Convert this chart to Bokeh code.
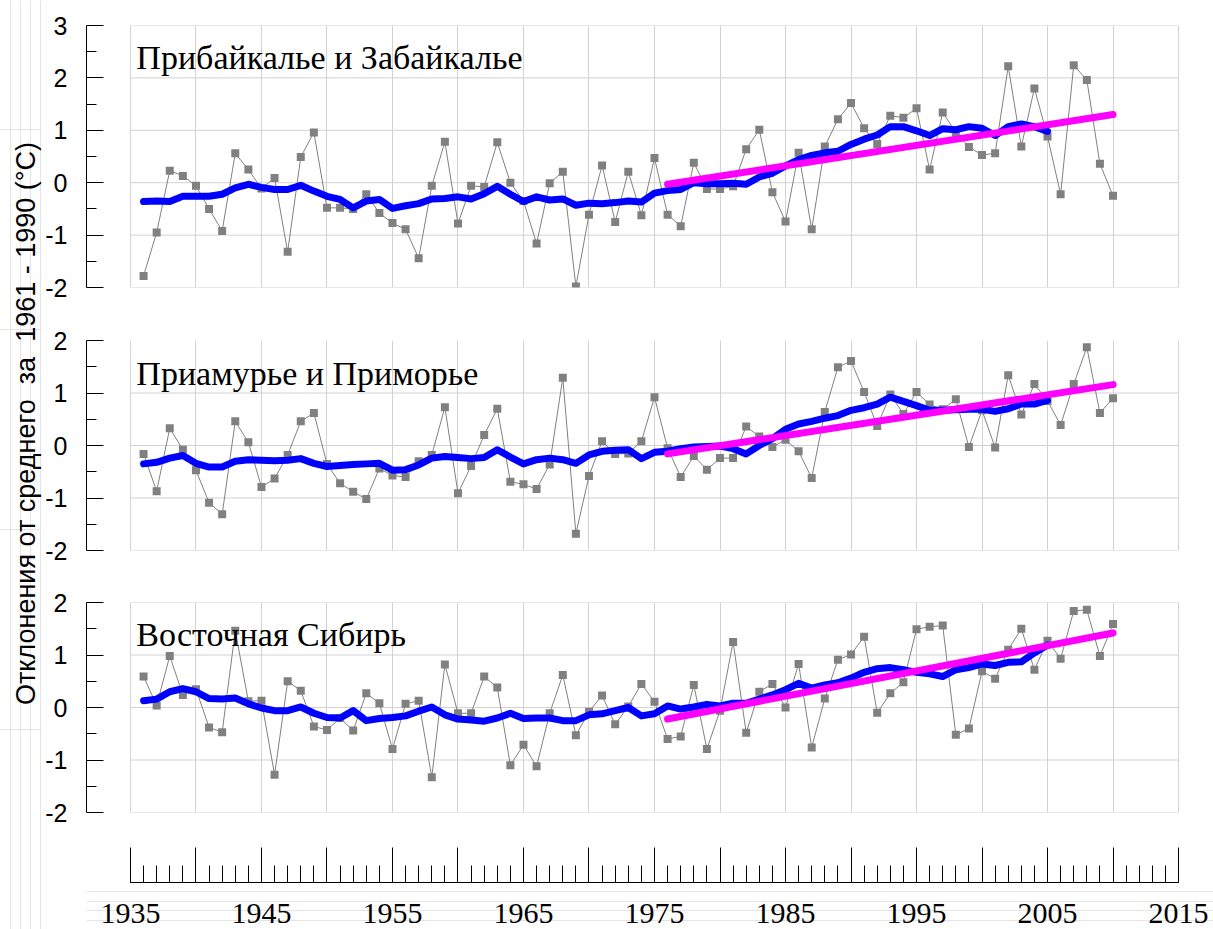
import math
from bokeh.plotting import figure
from bokeh.layouts import column, row
from bokeh.models import Range1d, FixedTicker, Label, Grid, LabelSet, ColumnDataSource
from bokeh.embed import file_html
from bokeh.resources import INLINE

# ---------------- data ----------------
years = list(range(1936, 2011))
smooth_years = list(range(1936, 2006))
trend_years = [1976, 2010]

titles = ["Прибайкалье и Забайкалье", "Приамурье и Приморье", "Восточная Сибирь"]
y_axis_title = "Отклонения от среднего\u00a0 за\u00a0 1961 - 1990 (°C)"

baikal_obs = [
    -1.78, -0.95, 0.23, 0.13, -0.06, -0.50, -0.92, 0.56, 0.25, -0.11,
    0.09, -1.32, 0.49, 0.96, -0.48, -0.48, -0.50, -0.22, -0.58, -0.77,
    -0.89, -1.44, -0.06, 0.78, -0.78, -0.06, -0.08, 0.77, 0.00, -0.35,
    -1.16, -0.01, 0.21, -1.98, -0.61, 0.33, -0.75, 0.21, -0.62, 0.47,
    -0.61, -0.83, 0.38, -0.12, -0.12, -0.07, 0.64, 1.01, -0.18, -0.74,
    0.57, -0.89, 0.69, 1.21, 1.52, 1.04, 0.74, 1.28, 1.24, 1.42,
    0.25, 1.34, 0.96, 0.68, 0.53, 0.56, 2.22, 0.69, 1.80, 0.88,
    -0.22, 2.24, 1.96, 0.36, -0.25,
]
baikal_smooth = [
    -0.36, -0.35, -0.36, -0.26, -0.26, -0.26, -0.22, -0.10, -0.03, -0.09,
    -0.13, -0.13, -0.05, -0.16, -0.26, -0.32, -0.48, -0.35, -0.32, -0.49,
    -0.44, -0.40, -0.31, -0.30, -0.27, -0.31, -0.21, -0.07, -0.22, -0.36,
    -0.27, -0.33, -0.31, -0.43, -0.39, -0.40, -0.38, -0.35, -0.37, -0.20,
    -0.15, -0.13, 0.00, -0.02, -0.02, -0.01, -0.03, 0.11, 0.18, 0.32,
    0.44, 0.52, 0.57, 0.60, 0.73, 0.83, 0.91, 1.07, 1.07, 0.99,
    0.90, 1.03, 1.01, 1.07, 1.04, 0.90, 1.07, 1.12, 1.07, 0.98,
]
baikal_trend = [-0.03, 1.30]

amur_obs = [
    -0.16, -0.87, 0.33, -0.08, -0.47, -1.09, -1.31, 0.46, 0.06, -0.79,
    -0.63, -0.18, 0.46, 0.62, -0.35, -0.72, -0.88, -1.02, -0.44, -0.57,
    -0.60, -0.30, -0.18, 0.73, -0.91, -0.39, 0.20, 0.70, -0.69, -0.74,
    -0.83, -0.36, 1.29, -1.68, -0.58, 0.08, -0.16, -0.15, 0.08, 0.92,
    -0.05, -0.60, -0.20, -0.46, -0.24, -0.24, 0.36, 0.17, -0.03, 0.11,
    -0.11, -0.62, 0.64, 1.49, 1.61, 1.02, 0.37, 0.97, 0.60, 1.02,
    0.78, 0.69, 0.88, -0.03, 0.67, -0.04, 1.34, 0.59, 1.17, 0.85,
    0.39, 1.17, 1.87, 0.62, 0.90,
]
amur_smooth = [
    -0.35, -0.32, -0.24, -0.19, -0.34, -0.41, -0.41, -0.30, -0.27, -0.28,
    -0.29, -0.28, -0.25, -0.34, -0.40, -0.38, -0.36, -0.35, -0.34, -0.47,
    -0.46, -0.37, -0.24, -0.21, -0.23, -0.25, -0.23, -0.08, -0.22, -0.35,
    -0.27, -0.24, -0.27, -0.34, -0.18, -0.11, -0.09, -0.08, -0.25, -0.13,
    -0.11, -0.06, -0.03, -0.02, -0.01, -0.06, -0.16, 0.00, 0.13, 0.31,
    0.41, 0.46, 0.52, 0.57, 0.67, 0.72, 0.79, 0.92, 0.84, 0.76,
    0.67, 0.67, 0.68, 0.69, 0.69, 0.65, 0.70, 0.79, 0.79, 0.86,
]
amur_trend = [-0.16, 1.16]

sib_obs = [
    0.59, 0.04, 0.98, 0.24, 0.35, -0.38, -0.47, 1.46, 0.12, 0.13,
    -1.28, 0.50, 0.32, -0.36, -0.43, -0.20, -0.44, 0.27, 0.08, -0.79,
    0.07, 0.13, -1.33, 0.82, -0.11, -0.11, 0.59, 0.38, -1.10, -0.71,
    -1.12, -0.11, 0.62, -0.53, -0.08, 0.23, -0.32, 0.02, 0.45, 0.11,
    -0.60, -0.55, 0.43, -0.79, -0.06, 1.25, -0.48, 0.30, 0.45, 0.00,
    0.83, -0.76, 0.17, 0.91, 1.01, 1.35, -0.10, 0.27, 0.48, 1.49,
    1.54, 1.56, -0.52, -0.40, 0.69, 0.55, 1.10, 1.50, 0.72, 1.27,
    0.93, 1.84, 1.86, 0.98, 1.59,
]
sib_smooth = [
    0.13, 0.16, 0.30, 0.36, 0.30, 0.17, 0.16, 0.18, 0.07, -0.01,
    -0.06, -0.06, 0.01, -0.11, -0.19, -0.20, -0.06, -0.25, -0.21, -0.19,
    -0.16, -0.07, 0.01, -0.14, -0.22, -0.24, -0.26, -0.20, -0.11, -0.21,
    -0.20, -0.20, -0.25, -0.25, -0.14, -0.12, -0.06, 0.00, -0.16, -0.12,
    0.03, -0.03, 0.01, 0.06, 0.03, 0.08, 0.08, 0.16, 0.24, 0.34,
    0.46, 0.37, 0.43, 0.47, 0.56, 0.67, 0.74, 0.76, 0.72, 0.67,
    0.64, 0.59, 0.72, 0.76, 0.83, 0.80, 0.86, 0.87, 1.04, 1.19,
]
sib_trend = [-0.22, 1.42]

y_ticks_top = [-2, -1, 0, 1, 2, 3]
y_ticks_low = [-2, -1, 0, 1, 2]
x_grid_years = list(range(1935, 2016, 5))
x_label_years = list(range(1935, 2016, 10))
x_minor_years = list(range(1935, 2016))

# ---------------- layout constants ----------------
LABEL_W = 42
PANEL_W = 1213 - LABEL_W
AXIS_X = 85          # absolute x of panel y-axes
X0_PX = 129          # absolute x of year 1935
X1_PX = 1178         # absolute x of year 2015
px_per_year = (X1_PX - X0_PX) / (2015 - 1935)
x_start = 2015 - (X1_PX - AXIS_X) / px_per_year
x_end = 2015 + (1213 - X1_PX) / px_per_year   # frames run to the page's right edge

GRID_COLOR = "#d2d2d2"
GRAY = "#808080"


def make_panel(obs, smooth, trend, title, title_y, yticks, hgrid, height, btop, bbot):
    ymin, ymax = yticks[0], yticks[-1]
    p = figure(width=PANEL_W, height=height,
               x_range=Range1d(x_start, x_end), y_range=Range1d(ymin, ymax),
               output_backend="svg", toolbar_location=None, title=None,
               x_axis_location=None,
               min_border_left=AXIS_X - LABEL_W, min_border_right=0,
               min_border_top=btop, min_border_bottom=bbot)
    p.outline_line_color = None
    p.background_fill_color = "white"
    p.border_fill_color = "white"
    p.ygrid.visible = False
    vg = Grid(dimension=0, ticker=FixedTicker(ticks=x_grid_years),
              grid_line_color=GRID_COLOR, grid_line_width=1)
    p.add_layout(vg)
    p.segment(x0=[x_grid_years[0]] * len(hgrid), x1=[x_grid_years[-1]] * len(hgrid),
              y0=hgrid, y1=hgrid, line_color=GRID_COLOR, line_width=1)

    ax = p.yaxis[0]
    ax.ticker = FixedTicker(ticks=yticks, minor_ticks=[t + 0.5 for t in yticks[:-1]])
    ax.bounds = (ymin, ymax)
    ax.major_label_overrides = {t: str(t) for t in yticks}
    ax.major_tick_in = 17
    ax.major_tick_out = 0
    ax.minor_tick_in = 10
    ax.minor_tick_out = 0
    ax.major_label_standoff = 19
    ax.major_label_text_font = "Liberation Sans"
    ax.major_label_text_font_size = "25px"
    ax.major_label_text_color = "black"
    ax.axis_line_color = "black"
    ax.major_tick_line_color = "black"
    ax.minor_tick_line_color = "black"

    p.line(years, obs, line_color=GRAY, line_width=1)
    p.scatter(years, obs, marker="square", size=8, fill_color=GRAY, line_color=None)
    p.line(smooth_years, smooth, line_color="#0000ff", line_width=7,
           line_join="round", line_cap="round")
    p.line(trend_years, trend, line_color="#ff00ff", line_width=7, line_cap="round")

    p.add_layout(Label(x=x_grid_years[0] + 0.45, y=title_y, text=title,
                       text_font="Liberation Serif", text_font_size="34px",
                       text_color="black", text_align="left",
                       text_baseline="alphabetic"))
    return p


p1 = make_panel(baikal_obs, baikal_smooth, baikal_trend, titles[0], 2.39,
                y_ticks_top, y_ticks_top, 312, 25, 25)
p2 = make_panel(amur_obs, amur_smooth, amur_trend, titles[1], 1.37,
                y_ticks_low, y_ticks_low[:-1], 264, 28, 26)
p3 = make_panel(sib_obs, sib_smooth, sib_trend, titles[2], 1.39,
                y_ticks_low, y_ticks_low, 250, 26, 14)

# bottom year axis: axis line at y=882 on top of a frame that holds the year labels
AF_TOP = 826
AF_H = 929 - AF_TOP
AXIS_Y = 882
af = figure(width=PANEL_W, height=AF_H, x_range=Range1d(x_start, x_end), y_range=Range1d(0, 1),
            output_backend="svg", toolbar_location=None, title=None,
            x_axis_location="above", y_axis_location=None,
            min_border_left=AXIS_X - LABEL_W, min_border_right=0,
            min_border_top=AXIS_Y - AF_TOP, min_border_bottom=0)
af.outline_line_color = None
af.xgrid.visible = False
xa = af.xaxis[0]
xa.ticker = FixedTicker(ticks=x_grid_years, minor_ticks=x_minor_years)
xa.bounds = (x_grid_years[0], x_grid_years[-1])
xa.major_label_overrides = {yr: "" for yr in x_grid_years}
xa.major_label_text_font_size = "1px"
xa.major_label_standoff = 0
xa.major_tick_in = 0
xa.major_tick_out = 35
xa.minor_tick_in = 0
xa.minor_tick_out = 17
xa.axis_line_color = "black"
xa.major_tick_line_color = "black"
xa.minor_tick_line_color = "black"

# year labels inside the frame (frame spans 882..929 -> y=1 at top, y=0 at bottom)
frame_h = 929 - AXIS_Y
year_src = ColumnDataSource(dict(x=x_label_years,
                                 y=[7 / frame_h] * len(x_label_years),
                                 text=[str(yr) for yr in x_label_years]))
af.add_layout(LabelSet(x="x", y="y", text="text", source=year_src,
                       text_font="Liberation Sans", text_font_size="30px",
                       text_color="black", text_align="center",
                       text_baseline="alphabetic"))

# rotated y-axis title spanning all panels
lf = figure(width=LABEL_W, height=929, x_range=Range1d(0, LABEL_W), y_range=Range1d(0, 929),
            output_backend="svg", toolbar_location=None, title=None,
            x_axis_location=None, y_axis_location=None, min_border=0)
lf.outline_line_color = None
lf.add_layout(Label(x=25, y=929 - 423, text=y_axis_title, angle=math.pi / 2,
                    text_align="center", text_baseline="middle",
                    text_font="Liberation Sans", text_font_size="27px",
                    text_color="black"))

layout = row(lf, column(p1, p2, p3, af))

with open("out.html", "w") as f:
    f.write(file_html(layout, INLINE))
